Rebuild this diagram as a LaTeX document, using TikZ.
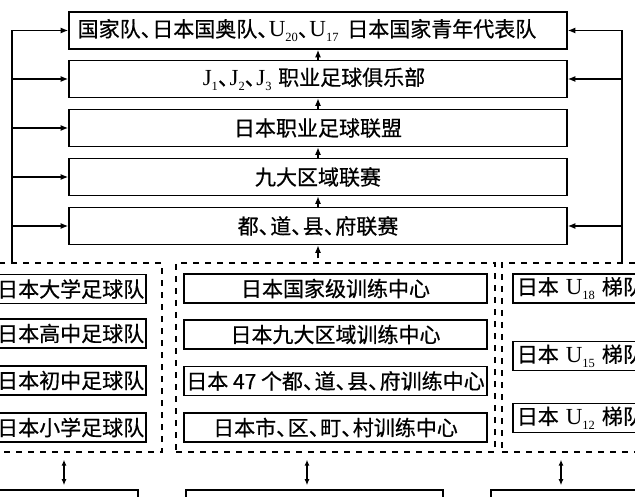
\documentclass[tikz,border=0pt]{standalone}
\usepackage{fontspec}
\setmainfont{Noto Sans CJK SC}[FakeBold=0.6]
\newfontfamily\lat{Liberation Serif}
\usetikzlibrary{arrows.meta}
\newcommand\dn{\makebox[0.55em][l]{、}}
\newcommand\subx[2]{{\fontsize{23}{23}\lat #1\raisebox{-0.22em}{\fontsize{12.5}{12.5}\selectfont #2}}}
\begin{document}
\begin{tikzpicture}[x=1pt,y=-1pt,
  box/.style={draw, line width=1.6pt, inner sep=0pt, font=\fontsize{21}{21}\selectfont},
  arr/.style={line width=1.3pt, -{Latex[length=7.5pt,width=6pt]}},
  dbl/.style={line width=1.3pt, {Latex[length=6pt,width=5pt]}-{Latex[length=6pt,width=5pt]}},
  fb/.style={line width=1.3pt},
  dsh/.style={draw, line width=1.4pt, dash pattern=on 6pt off 6pt, inner sep=0pt}]
\useasboundingbox (0,0) rectangle (635,497);
% top chain
\node[box, minimum width=498pt, minimum height=37pt] (t1) at (318,30.5) {\hspace*{-22pt}国家队\dn 日本国奥队\dn\subx{U}{20}\dn\subx{U}{17}\hspace{4pt} 日本国家青年代表队};
\node[box, minimum width=498pt, minimum height=37pt] (t2) at (318,79) {\hspace*{-8pt}\subx{J}{1}\dn\subx{J}{2}\dn\subx{J}{3}\hspace{2pt} 职业足球俱乐部};
\node[box, minimum width=498pt, minimum height=37pt] (t3) at (318,128) {日本职业足球联盟};
\node[box, minimum width=498pt, minimum height=37pt] (t4) at (318,177) {九大区域联赛};
\node[box, minimum width=498pt, minimum height=37pt] (t5) at (318,226) {都\dn 道\dn 县\dn 府联赛};
\draw[arr] (t2.north) -- (t1.south);
\draw[arr] (t3.north) -- (t2.south);
\draw[arr] (t4.north) -- (t3.south);
\draw[arr] (t5.north) -- (t4.south);
% dashed regions
\node[dsh, minimum width=170pt, minimum height=189pt] (dL) at (77,357.5) {};
\node[dsh, minimum width=319pt, minimum height=189pt] (dM) at (335.5,357.5) {};
\node[dsh, minimum width=158pt, minimum height=189pt] (dR) at (581,357.5) {};
\draw[arr, shorten <=4pt] (dM.north -| t5.south) -- (t5.south);
% feedback lines
\coordinate (Lt) at (12,30.5);
\coordinate (Rt) at (622,30.5);
\draw[fb] (Lt |- dL.north) -- (Lt);
\draw[fb] (Rt |- dR.north) -- (Rt);
\draw[arr] (Lt) -- (t1.west);
\draw[arr] (Lt |- t2.west) -- (t2.west);
\draw[arr] (Lt |- t3.west) -- (t3.west);
\draw[arr] (Lt |- t4.west) -- (t4.west);
\draw[arr] (Lt |- t5.west) -- (t5.west);
\draw[arr] (Rt) -- (t1.east);
\draw[arr] (Rt |- t2.east) -- (t2.east);
\draw[arr] (Rt |- t5.east) -- (t5.east);
% left column
\node[box, minimum width=157pt, minimum height=29pt, text width=153pt, align=right, anchor=east] (l1) at (147,289) {日本大学足球队};
\node[box, minimum width=157pt, minimum height=29pt, text width=153pt, align=right, anchor=east] (l2) at (147,333.5) {日本高中足球队};
\node[box, minimum width=157pt, minimum height=29pt, text width=153pt, align=right, anchor=east] (l3) at (147,380.5) {日本初中足球队};
\node[box, minimum width=157pt, minimum height=29pt, text width=153pt, align=right, anchor=east] (l4) at (147,427.5) {日本小学足球队};
% middle column
\node[box, minimum width=303pt, minimum height=29pt] (m1) at (335.5,288.5) {日本国家级训练中心};
\node[box, minimum width=303pt, minimum height=29pt] (m2) at (335.5,334.5) {日本九大区域训练中心};
\node[box, minimum width=303pt, minimum height=29pt] (m3) at (335.5,381) {日本 47 个都\dn 道\dn 县\dn 府训练中心};
\node[box, minimum width=303pt, minimum height=29pt] (m4) at (335.5,427.5) {日本市\dn 区\dn 町\dn 村训练中心};
% right column
\node[box, minimum width=150pt, minimum height=29pt, text width=142pt, align=left, anchor=west] (r1) at (512,288.5) {日本 \subx{U}{18} 梯队};
\node[box, minimum width=150pt, minimum height=29pt, text width=142pt, align=left, anchor=west] (r2) at (512,356) {日本 \subx{U}{15} 梯队};
\node[box, minimum width=150pt, minimum height=29pt, text width=142pt, align=left, anchor=west] (r3) at (512,418) {日本 \subx{U}{12} 梯队};
% bottom boxes (cut off)
\node[box, minimum width=148pt, minimum height=30pt] (b1) at (64,505) {};
\node[box, minimum width=257pt, minimum height=30pt] (b2) at (314.5,505) {};
\node[box, minimum width=169pt, minimum height=30pt] (b3) at (575.5,505) {};
\coordinate (x1) at (64,0);
\coordinate (x2) at (307,0);
\coordinate (x3) at (561,0);
\draw[dbl, shorten <=7pt, shorten >=4pt] (dL.south -| x1) -- (b1.north -| x1);
\draw[dbl, shorten <=7pt, shorten >=4pt] (dM.south -| x2) -- (b2.north -| x2);
\draw[dbl, shorten <=7pt, shorten >=4pt] (dR.south -| x3) -- (b3.north -| x3);
\end{tikzpicture}
\end{document}
